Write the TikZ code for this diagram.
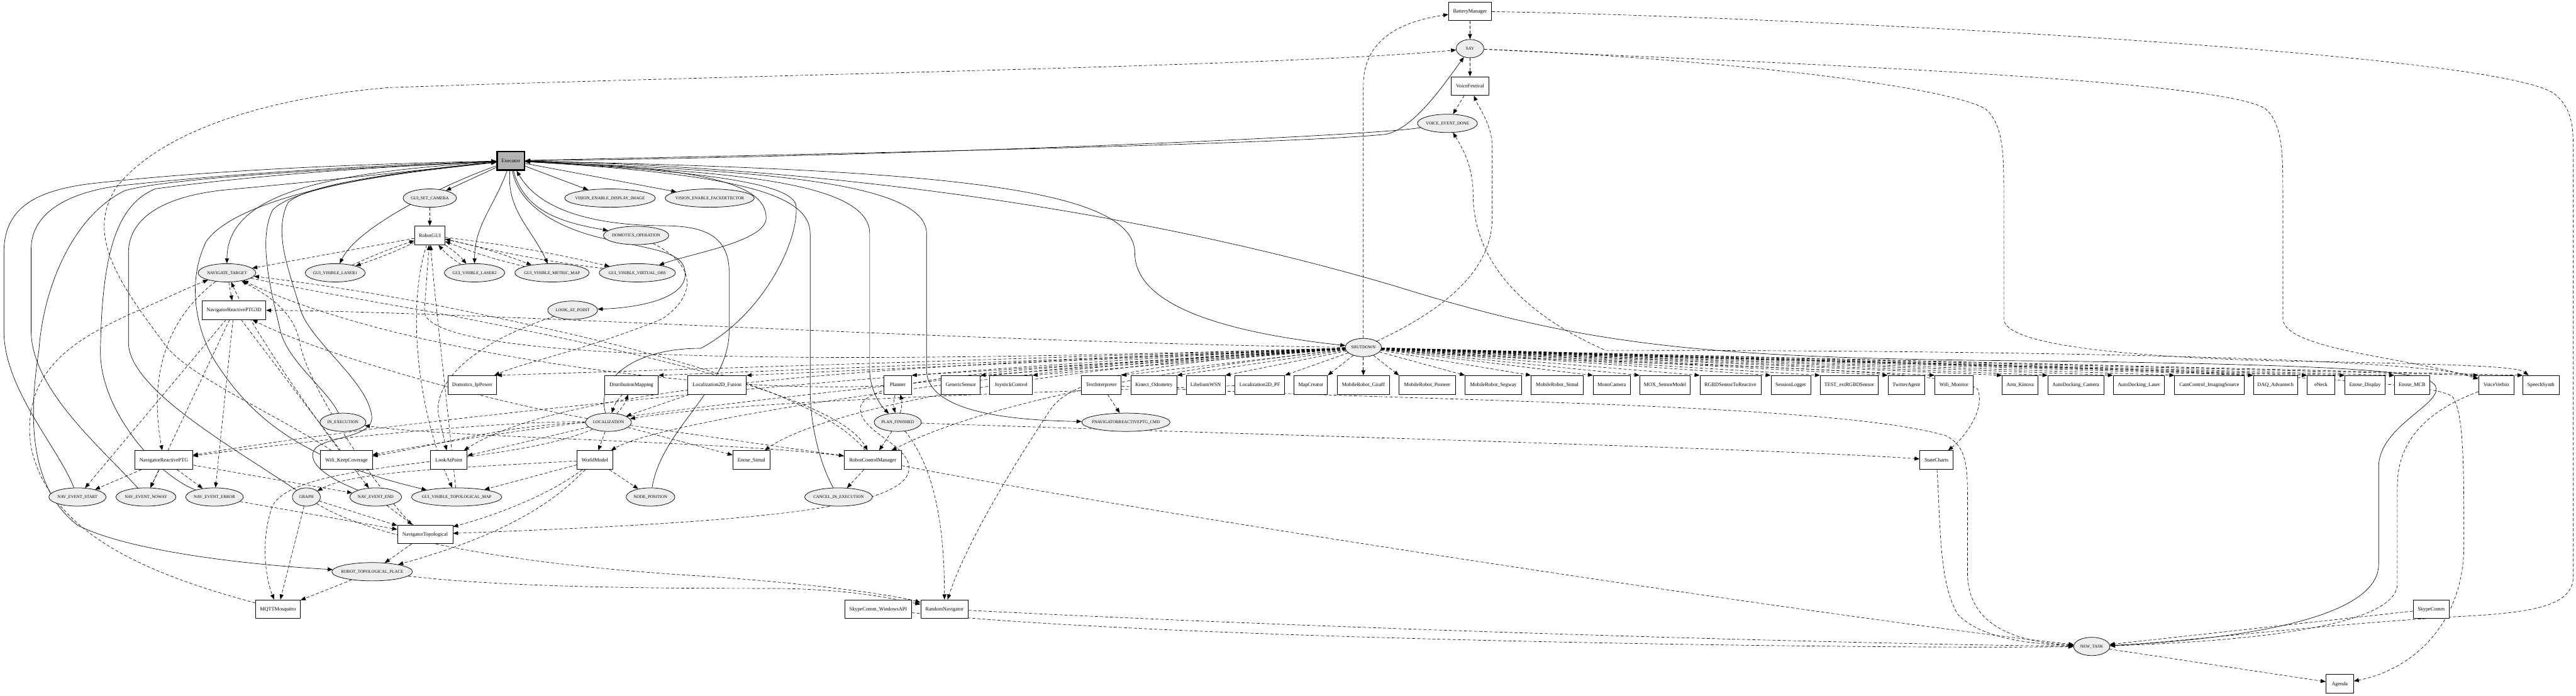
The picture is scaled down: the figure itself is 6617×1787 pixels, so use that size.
\documentclass[tikz,border=0pt]{standalone}
\usepackage{fontspec}
\setmainfont{Liberation Serif}
\usetikzlibrary{arrows.meta,shapes.geometric}
\pgfdeclarelayer{back}
\pgfdeclarelayer{edges}
\pgfsetlayers{back,edges,main}
\definecolor{evfill}{RGB}{238,238,238}
\definecolor{exfill}{RGB}{179,179,179}
\newcommand\nlab[1]{\smash{\makebox[0pt]{\raisebox{-0.32em}{#1}}}}
\tikzset{
 evnode/.style={ellipse, draw, fill=evfill, line width=1.2pt, inner sep=0pt, minimum height=47pt, font=\fontsize{11}{12}\selectfont},
 modnode/.style={rectangle, draw, fill=white, line width=1.2pt, inner sep=0pt, minimum height=48pt, font=\fontsize{13.3}{14}\selectfont},
 exnode/.style={modnode, fill=exfill, line width=4pt},
 solidedge/.style={-{Triangle[length=13pt,width=10pt]}, line width=1.05pt},
 dashedge/.style={solidedge, dash pattern=on 8pt off 5pt},
}
\begin{document}
\begin{tikzpicture}[x=1pt,y=-1pt]
\begin{pgfonlayer}{back}
\fill[white] (0,0) rectangle (6617,1787);
\end{pgfonlayer}
\useasboundingbox (0,0) rectangle (6617,1787);

% ---------- event nodes ----------
\node[evnode, minimum width=71pt] (say) at (3776,125) {\nlab{SAY}};
\node[evnode, minimum width=154pt] (ved) at (3718,317) {\nlab{VOICE\_EVENT\_DONE}};
\node[evnode, minimum width=137pt] (gsc) at (1104,509) {\nlab{GUI\_SET\_CAMERA}};
\node[evnode, minimum width=233pt] (vdi) at (1567,509) {\nlab{VISION\_ENABLE\_DISPLAY\_IMAGE}};
\node[evnode, minimum width=229pt] (vfd) at (1823,509) {\nlab{VISION\_ENABLE\_FACEDETECTOR}};
\node[evnode, minimum width=168pt] (dom) at (1634,605) {\nlab{DOMOTICS\_OPERATION}};
\node[evnode, minimum width=148pt] (nt) at (583,701) {\nlab{NAVIGATE\_TARGET}};
\node[evnode, minimum width=154pt] (gl1) at (861,701) {\nlab{GUI\_VISIBLE\_LASER1}};
\node[evnode, minimum width=155pt] (gl2) at (1219,701) {\nlab{GUI\_VISIBLE\_LASER2}};
\node[evnode, minimum width=191pt] (gmm) at (1418,701) {\nlab{GUI\_VISIBLE\_METRIC\_MAP}};
\node[evnode, minimum width=196pt] (gvo) at (1637,701) {\nlab{GUI\_VISIBLE\_VIRTUAL\_OBS}};
\node[evnode, minimum width=128pt] (lap) at (1471,797) {\nlab{LOOK\_AT\_POINT}};
\node[evnode, minimum width=93pt] (sd) at (3502,893) {\nlab{SHUTDOWN}};
\node[evnode, minimum width=118pt] (inex) at (881,1085) {\nlab{IN\_EXECUTION}};
\node[evnode, minimum width=118pt] (loc) at (1563,1085) {\nlab{LOCALIZATION}};
\node[evnode, minimum width=121pt] (pf) at (2306,1085) {\nlab{PLAN\_FINISHED}};
\node[evnode, minimum width=227pt] (pcmd) at (2892,1085) {\nlab{PNAVIGATORREACTIVEPTG\_CMD}};
\node[evnode, minimum width=147pt] (nes) at (199,1277) {\nlab{NAV\_EVENT\_START}};
\node[evnode, minimum width=154pt] (nen) at (375,1277) {\nlab{NAV\_EVENT\_NOWAY}};
\node[evnode, minimum width=148pt] (nee) at (551,1277) {\nlab{NAV\_EVENT\_ERROR}};
\node[evnode, minimum width=72pt] (graph) at (787,1277) {\nlab{GRAPH}};
\node[evnode, minimum width=133pt] (nend) at (965,1277) {\nlab{NAV\_EVENT\_END}};
\node[evnode, minimum width=232pt] (gtm) at (1173,1277) {\nlab{GUI\_VISIBLE\_TOPOLOGICAL\_MAP}};
\node[evnode, minimum width=125pt] (npos) at (1671,1277) {\nlab{NODE\_POSITION}};
\node[evnode, minimum width=174pt] (cie) at (2154,1277) {\nlab{CANCEL\_IN\_EXECUTION}};
\node[evnode, minimum width=207pt] (rtp) at (956,1469) {\nlab{ROBOT\_TOPOLOGICAL\_PLACE}};
\node[evnode, minimum width=93pt] (newt) at (5373,1661) {\nlab{NEW\_TASK}};

% ---------- module nodes ----------
\node[modnode, minimum width=110pt] (bat) at (3776,29) {\nlab{BatteryManager}};
\node[modnode, minimum width=97pt] (vfest) at (3776,221) {\nlab{VoiceFestival}};
\node[exnode, minimum width=70pt] (ex) at (1312,413) {\nlab{Executor}};
\node[modnode, minimum width=78pt] (rgui) at (1104,605) {\nlab{RobotGUI}};
\node[modnode, minimum width=164pt] (nr3d) at (601,797) {\nlab{NavigatorReactivePTG3D}};
\foreach \bname/\btext/\bx/\bw in {
 dip/Domotics\_IpPower/1213/125, dmap/DistributionMapping/1622/138,
 lfus/Localization2D\_Fusion/1842/150, plan/Planner/2306/71,
 gsen/GenericSensor/2468/100, joy/JoystickControl/2597/110,
 txt/TextInterpreter/2829/102, kin/Kinect\_Odometry/2964/118,
 lib/LibeliumWSN/3097/100, lpf/Localization2D\_PF/3236/128,
 mapc/MapCreator/3367/86, gir/MobileRobot\_Giraff/3502/135,
 pio/MobileRobot\_Pioneer/3666/144, seg/MobileRobot\_Segway/3836/145,
 sim/MobileRobot\_Simul/4000/134, mono/MonoCamera/4140/95,
 mox/MOX\_SensorModel/4277/130, rgbd/RGBDSensorToReactive/4445/157,
 slog/SessionLogger/4600/102, test/TEST\_extRGBDSensor/4750/149,
 twit/TwitterAgent/4897/95, wmon/Wifi\_Monitor/5019/98,
 arm/Arm\_Kinova/5189/92, adc/AutoDocking\_Camera/5332/144,
 adl/AutoDocking\_Laser/5494/132, cam/CamControl\_ImagingSource/5675/178,
 daq/DAQ\_Advantech/5845/114, eneck/eNeck/5962/71,
 edisp/Enose\_Display/6075/103, emcb/Enose\_MCB/6196/90,
 vverb/VoiceVerbio/6412/91, ssyn/SpeechSynth/6527/93}
 {\node[modnode, minimum width=\bw pt] (\bname) at (\bx,989) {\nlab{\btext}};}
\node[modnode, minimum width=148pt] (nrptg) at (421,1182) {\nlab{NavigatorReactivePTG}};
\node[modnode, minimum width=133pt] (wkc) at (890,1182) {\nlab{Wifi\_KeepCoverage}};
\node[modnode, minimum width=94pt] (lapm) at (1153,1182) {\nlab{LookAtPoint}};
\node[modnode, minimum width=91pt] (wm) at (1528,1182) {\nlab{WorldModel}};
\node[modnode, minimum width=95pt] (esim) at (1930,1182) {\nlab{Enose\_Simul}};
\node[modnode, minimum width=147pt] (rcm) at (2242,1182) {\nlab{RobotControlManager}};
\node[modnode, minimum width=85pt] (stc) at (4974,1182) {\nlab{StateCharts}};
\node[modnode, minimum width=142pt] (ntop) at (1092,1373) {\nlab{NavigatorTopological}};
\node[modnode, minimum width=115pt] (mqtt) at (714,1565) {\nlab{MQTTMosquitto}};
\node[modnode, minimum width=171pt] (skw) at (2256,1565) {\nlab{SkypeComm\_WindowsAPI}};
\node[modnode, minimum width=122pt] (rnav) at (2426,1565) {\nlab{RandomNavigator}};
\node[modnode, minimum width=92pt] (skc) at (6245,1565) {\nlab{SkypeComm}};
\node[modnode, minimum width=71pt] (agenda) at (6010,1757) {\nlab{Agenda}};

\begin{pgfonlayer}{edges}
% ---------- Executor (solid) ----------
\draw[solidedge] (ex) -- (gsc);
\draw[solidedge] (ex) -- (vdi);
\draw[solidedge] (ex) -- (vfd);
\draw[solidedge] (ex) to[out=-75,in=170] (dom);
\draw[solidedge] (ex) to[out=-110,in=90] (gl2);
\draw[solidedge] (ex) to[out=-95,in=115] (gmm);
\draw[solidedge] (ex) .. controls (1800,430) and (1968,470) .. (1968,560) .. controls (1968,620) and (1780,650) .. (gvo);
\draw[solidedge] (ex) .. controls (1330,520) and (1420,585) .. (1560,615) .. controls (1700,645) and (1760,650) .. (1760,705) .. controls (1760,765) and (1650,790) .. (lap);
\draw[solidedge] (npos) .. controls (1700,1100) and (1873,1000) .. (1873,850) -- (1873,700) .. controls (1873,600) and (1800,580) .. (1700,580) .. controls (1500,578) and (1380,530) .. (ex);
\draw[solidedge] (loc) .. controls (1530,980) and (1620,895) .. (1800,895) .. controls (1960,810) and (2052,620) .. (2045,530) .. controls (2040,470) and (1800,440) .. (ex);
\draw[solidedge] (cie) .. controls (2110,1200) and (2081,1100) .. (2081,1000) -- (2081,600) .. controls (2081,500) and (1900,448) .. (ex);
\draw[solidedge] (ex) .. controls (1800,440) and (2234,455) .. (2234,600) -- (2234,950) .. controls (2234,1000) and (2260,1040) .. (pf);
\draw[solidedge] (ex) .. controls (1900,438) and (2380,460) .. (2380,600) -- (2380,950) .. controls (2380,1060) and (2600,1080) .. (pcmd);
\draw[solidedge] (ex) .. controls (2400,436) and (2915,480) .. (2915,650) .. controls (2915,800) and (3200,860) .. (sd);
\draw[solidedge] (ex) .. controls (2000,398) and (3300,372) .. (3560,345) .. controls (3630,330) and (3700,230) .. (say);
\draw[solidedge] (ved) .. controls (3500,352) and (2200,405) .. (ex);
\draw[solidedge] (ex) .. controls (2200,430) and (3000,560) .. (3600,740) .. controls (4100,895) and (4400,922) .. (5300,928) .. controls (6100,940) and (6258,955) .. (6258,1000) .. controls (6258,1045) and (6110,1100) .. (6110,1200) -- (6110,1450) .. controls (6110,1600) and (5700,1645) .. (newt);
\draw[solidedge] (ex) .. controls (1150,470) and (920,580) .. (gl1);
\draw[solidedge] (ex) .. controls (900,440) and (583,480) .. (nt);
\draw[solidedge] (nes) .. controls (150,1150) and (10,1000) .. (10,850) -- (10,650) .. controls (10,540) and (80,488) .. (250,470) .. controls (600,432) and (1000,420) .. (ex);
\draw[solidedge] (nen) .. controls (260,1150) and (80,1000) .. (80,850) -- (80,640) .. controls (80,560) and (150,500) .. (300,478) .. controls (650,440) and (1000,424) .. (ex);
\draw[solidedge] (ex) .. controls (1000,428) and (450,452) .. (320,490) .. controls (180,560) and (110,750) .. (100,900) .. controls (75,1060) and (70,1250) .. (200,1350) .. controls (350,1425) and (700,1455) .. (rtp);
\draw[solidedge] (nee) .. controls (400,1220) and (255,1050) .. (258,900) .. controls (262,650) and (300,525) .. (400,485) .. controls (700,445) and (1000,428) .. (ex);
\draw[solidedge] (graph) .. controls (600,1150) and (330,1000) .. (330,880) -- (330,650) .. controls (330,560) and (420,500) .. (600,486) .. controls (900,458) and (1100,434) .. (ex);
\draw[solidedge] (inex) .. controls (840,1000) and (740,930) .. (720,850) .. controls (700,760) and (660,620) .. (700,540) .. controls (760,475) and (1050,442) .. (ex);
\draw[solidedge] (nend) .. controls (870,1240) and (790,1200) .. (805,1160) .. controls (820,1120) and (960,1130) .. (955,1070) .. controls (945,980) and (800,880) .. (772,797) .. controls (745,700) and (700,600) .. (740,520) .. controls (800,468) and (1050,440) .. (ex);
\draw[solidedge] (ex) .. controls (900,450) and (600,520) .. (530,620) .. controls (480,720) and (500,850) .. (560,940) .. controls (640,1060) and (760,1180) .. (gtm);

% ---------- top cluster (dashed) ----------
\draw[dashedge] (bat) -- (say);
\draw[dashedge] (say) -- (vfest);
\draw[dashedge] (vfest) -- (ved);
\draw[dashedge] (sd) -- (3502,220) .. controls (3502,100) and (3600,55) .. (bat);
\draw[dashedge] (sd) .. controls (3700,800) and (3833,700) .. (3833,560) -- (3833,380) .. controls (3833,320) and (3800,280) .. (vfest);
\draw[dashedge] (vverb) .. controls (6200,905) and (4600,900) .. (4124,900) .. controls (3850,780) and (3784,620) .. (3784,500) .. controls (3784,420) and (3750,370) .. (ved);
\draw[dashedge] (wkc) .. controls (700,1060) and (470,960) .. (420,880) .. controls (300,720) and (220,600) .. (300,480) .. controls (420,330) and (700,250) .. (1000,225) .. controls (2000,190) and (3300,170) .. (say);
\draw[dashedge] (say) .. controls (4500,160) and (5700,200) .. (5820,280) .. controls (5864,320) and (5864,400) .. (5864,500) -- (5864,820) .. controls (5870,900) and (6200,920) .. (vverb);
\draw[dashedge] (say) .. controls (4400,150) and (5000,220) .. (5100,280) .. controls (5147,320) and (5147,400) .. (5147,500) -- (5147,820) .. controls (5150,900) and (5600,925) .. (6000,930) .. controls (6400,938) and (6470,945) .. (ssyn);
\draw[dashedge] (bat) .. controls (4500,40) and (6400,130) .. (6560,240) .. controls (6610,280) and (6610,330) .. (6610,400) -- (6610,1480) .. controls (6610,1560) and (6500,1575) .. (6300,1585) .. controls (5900,1610) and (5600,1650) .. (newt);

% ---------- SHUTDOWN fan ----------
\foreach \b in {dip,dmap,lfus,plan,gsen,joy,txt,kin,lib,lpf,mapc} {\draw[dashedge] (sd) -- (\b.north east);}
\draw[dashedge] (sd) -- (gir);
\foreach \b in {pio,seg,sim,mono,mox,rgbd,slog,test,twit,wmon,arm,adc,adl,cam,daq,eneck,edisp,emcb,vverb,ssyn} {\draw[dashedge] (sd) -- (\b.north west);}
\draw[dashedge] (sd) .. controls (2500,880) and (1200,800) .. (nr3d);
\draw[dashedge] (sd) .. controls (2600,920) and (1100,960) .. (1090,800) -- (rgui);
\draw[dashedge] (sd) .. controls (2600,930) and (1200,1050) .. (nrptg);
\draw[dashedge] (sd) .. controls (2600,935) and (1300,1100) .. (wkc);
\draw[dashedge] (sd) .. controls (2600,930) and (1500,960) .. (lapm);
\draw[dashedge] (sd) .. controls (2600,940) and (1700,1080) .. (wm);
\draw[dashedge] (sd) .. controls (2600,950) and (2100,1060) .. (esim);
\draw[dashedge] (sd) .. controls (2900,960) and (2500,1050) .. (rcm);
\draw[dashedge] (sd) .. controls (4000,940) and (5000,935) .. (5080,1000) .. controls (5100,1050) and (5050,1120) .. (stc);
\draw[dashedge] (sd) .. controls (2700,945) and (2210,960) .. (2210,1050) .. controls (2210,1110) and (2330,1140) .. (2335,1200) .. controls (2340,1300) and (2000,1340) .. (ntop);
\draw[dashedge] (sd) .. controls (3000,930) and (2765,960) .. (2700,1050) .. controls (2600,1200) and (2480,1400) .. (rnav);
\draw[dashedge] (sd) .. controls (4500,930) and (6240,948) .. (6300,1020) .. controls (6329,1060) and (6329,1200) .. (6329,1400) .. controls (6329,1600) and (6200,1720) .. (agenda);

% ---------- GUI cluster ----------
\draw[dashedge] (gsc) -- (rgui);
\draw[dashedge] (rgui) -- (nt);
\draw[dashedge] (rgui) to[bend left=3] (gl1);
\draw[dashedge] (gl1) to[bend left=3] (rgui);
\draw[dashedge] (rgui) to[bend left=8] (gl2);
\draw[dashedge] (gl2) to[bend left=8] (rgui);
\draw[dashedge] (rgui) to[bend left=4] (gmm);
\draw[dashedge] (gmm) to[bend left=4] (rgui);
\draw[dashedge] (rgui) to[bend left=3] (gvo);
\draw[dashedge] (gvo) to[bend left=3] (rgui);
\draw[dashedge] (gtm) .. controls (1150,1050) and (1120,800) .. (rgui);
\draw[dashedge] (rgui) .. controls (1040,800) and (1080,1080) .. (gtm);

% ---------- navigation ----------
\draw[dashedge] (nt) -- (nr3d);
\draw[dashedge] (nt) .. controls (480,780) and (370,900) .. (nrptg);
\foreach \e in {nes,nen,nee,nend} {\draw[dashedge] (nr3d) -- (\e);}
\foreach \e in {nes,nen,nee,nend} {\draw[dashedge] (nrptg) -- (\e);}
\draw[dashedge] (nend) -- (ntop);
\draw[dashedge] (nee) -- (ntop);
\draw[dashedge] (graph) -- (ntop);
\draw[dashedge] (ntop) -- (rtp);
\draw[dashedge] (ntop) .. controls (1000,1300) and (790,1000) .. (770,880) .. controls (755,800) and (690,760) .. (nt);
\draw[dashedge] (graph) -- (mqtt);
\draw[dashedge] (rtp) -- (mqtt);
\draw[dashedge] (loc) .. controls (1300,1200) and (760,1180) .. (700,1300) .. controls (670,1380) and (680,1480) .. (mqtt);
\draw[dashedge] (mqtt) .. controls (400,1480) and (130,1380) .. (80,1150) .. controls (50,950) and (200,870) .. (330,809) .. controls (420,770) and (480,740) .. (nt);
\draw[dashedge] (graph) .. controls (950,1380) and (1300,1450) .. (1800,1480) .. controls (2100,1500) and (2300,1530) .. (rnav);
\draw[dashedge] (rtp) .. controls (1300,1510) and (1700,1512) .. (2000,1512) .. controls (2200,1515) and (2300,1540) .. (rnav);
\draw[dashedge] (rnav) .. controls (3500,1620) and (4800,1655) .. (newt);
\draw[dashedge] (skw) .. controls (3000,1645) and (4800,1668) .. (newt);
\draw[dashedge] (wkc) .. controls (800,1060) and (650,850) .. (nt);

% ---------- world model / localization ----------
\draw[dashedge] (wm) -- (npos);
\draw[dashedge] (wm) -- (gtm);
\draw[dashedge] (wm) .. controls (1100,1205) and (900,1215) .. (graph);
\draw[dashedge] (wm) .. controls (1450,1260) and (1350,1360) .. (rtp);
\draw[dashedge] (wm) .. controls (1400,1280) and (1250,1330) .. (ntop);
\draw[dashedge] (dmap) to[bend right=12] (loc);
\draw[dashedge] (loc) to[bend right=12] (dmap);
\draw[dashedge] (lfus) -- (loc);
\draw[dashedge] (lpf) .. controls (2600,1010) and (1900,1030) .. (loc);
\draw[dashedge] (loc) -- (wm);
\draw[dashedge] (loc) -- (lapm);
\draw[dashedge] (loc) -- (esim);
\draw[dashedge] (loc) -- (rcm);
\draw[dashedge] (loc) .. controls (1300,1080) and (800,1130) .. (nrptg);
\draw[dashedge] (loc) .. controls (1300,1090) and (1100,1150) .. (wkc);
\draw[dashedge] (loc) .. controls (1200,1020) and (800,900) .. (nr3d);

% ---------- control / planning ----------
\draw[dashedge] (rcm) .. controls (1900,1135) and (1150,1125) .. (inex);
\draw[dashedge] (rcm) -- (cie);
\draw[dashedge] (pf) -- (rcm);
\draw[dashedge] (rcm) .. controls (2100,1000) and (1600,880) .. (1100,780) .. controls (900,742) and (750,722) .. (nt);
\draw[dashedge] (nt) .. controls (750,738) and (900,765) .. (1100,800) .. controls (1600,895) and (2150,1015) .. (rcm);
\draw[dashedge] (rcm) .. controls (3000,1330) and (4800,1600) .. (newt);
\draw[dashedge] (plan) to[bend right=15] (pf);
\draw[dashedge] (pf) to[bend right=15] (plan);
\draw[dashedge] (pf) .. controls (3000,1110) and (4500,1150) .. (stc);
\draw[dashedge] (pf) .. controls (2400,1200) and (2426,1350) .. (rnav);
\draw[dashedge] (plan) .. controls (1800,1015) and (1000,900) .. (nt);
\draw[dashedge] (txt) -- (pcmd);
\draw[dashedge] (txt) .. controls (3500,1030) and (4700,1030) .. (5000,1120) .. controls (5054,1150) and (5054,1200) .. (5054,1300) -- (5054,1480) .. controls (5060,1620) and (5200,1650) .. (newt);
\draw[dashedge] (stc) .. controls (4985,1350) and (4980,1500) .. (5030,1580) .. controls (5100,1650) and (5250,1655) .. (newt);
\draw[dashedge] (vverb) .. controls (6250,1050) and (6158,1120) .. (6158,1250) -- (6158,1500) .. controls (6158,1620) and (5700,1650) .. (newt);
\draw[dashedge] (skc) -- (newt);
\draw[dashedge] (newt) -- (agenda);
\draw[dashedge] (lap) .. controls (1250,870) and (1120,960) .. (1125,1060) -- (lapm);
\draw[dashedge] (dom) .. controls (1790,680) and (1790,760) .. (1700,820) .. controls (1500,900) and (1350,930) .. (dip);
\end{pgfonlayer}
\end{tikzpicture}
\end{document}
